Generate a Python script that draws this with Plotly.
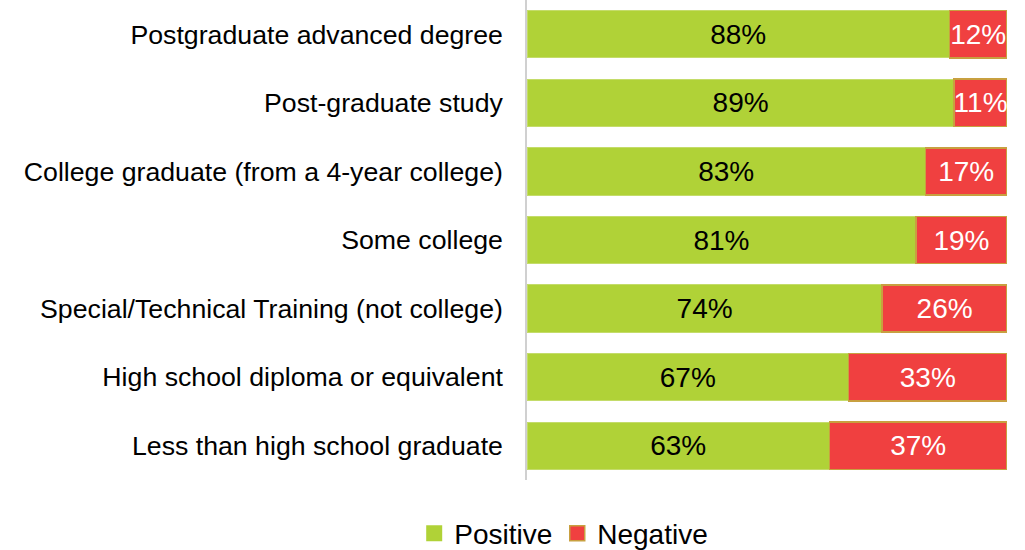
import plotly.graph_objects as go

categories = [
    "Postgraduate advanced degree",
    "Post-graduate study",
    "College graduate (from a 4-year college)",
    "Some college",
    "Special/Technical Training (not college)",
    "High school diploma or equivalent",
    "Less than high school graduate",
]
positive = [88, 89, 83, 81, 74, 67, 63]
negative = [12, 11, 17, 19, 26, 33, 37]

green = '#B0D237'
red = '#F04040'

fig = go.Figure()
fig.add_trace(go.Bar(
    y=categories, x=positive, orientation='h', name='Positive', showlegend=False,
    marker=dict(color=green, line=dict(color='#C4DC6A', width=1)),
    text=[f"{v}%" for v in positive], textposition='inside', insidetextanchor='middle',
    textfont=dict(color='black', size=28, family='Liberation Sans, Arial'),
    hoverinfo='skip'))
fig.add_trace(go.Bar(
    y=categories, x=negative, orientation='h', name='Negative', showlegend=False,
    marker=dict(color=red, line=dict(color='#C8A040', width=1.5)),
    text=[f"{v}%" for v in negative], textposition='inside', insidetextanchor='middle',
    textfont=dict(color='white', size=28, family='Liberation Sans, Arial'),
    constraintext='none', cliponaxis=False,
    hoverinfo='skip'))

# legend entries with bigger square swatches
fig.add_trace(go.Scatter(x=[None], y=[None], mode='markers', name='Positive',
                         marker=dict(symbol='square', size=16, color=green,
                                     line=dict(color=green, width=0))))
fig.add_trace(go.Scatter(x=[None], y=[None], mode='markers', name='Negative',
                         marker=dict(symbol='square', size=15, color=red,
                                     line=dict(color='#C8A040', width=1.5))))

fig.update_layout(
    barmode='stack', bargap=0.31,
    width=1025, height=550,
    margin=dict(l=527, r=18, t=0, b=70),
    plot_bgcolor='white', paper_bgcolor='white',
    font=dict(family='Liberation Sans, Arial', size=26.7, color='black'),
    uniformtext=dict(minsize=28, mode='show'),
    legend=dict(orientation='h', x=-0.235, xanchor='left', yref='container', y=0.03,
                yanchor='middle', font=dict(size=28), itemwidth=30, traceorder='normal'),
    showlegend=True,
)
fig.update_xaxes(range=[0, 100], visible=False)
fig.update_yaxes(autorange='reversed', showline=True, linecolor='#D0D0D0', linewidth=1.5,
                 ticks='', ticklabelstandoff=17, showgrid=False, automargin=False)

fig.write_html("out.html", config={'displayModeBar': False},
               post_script="document.body.style.margin='0';")
